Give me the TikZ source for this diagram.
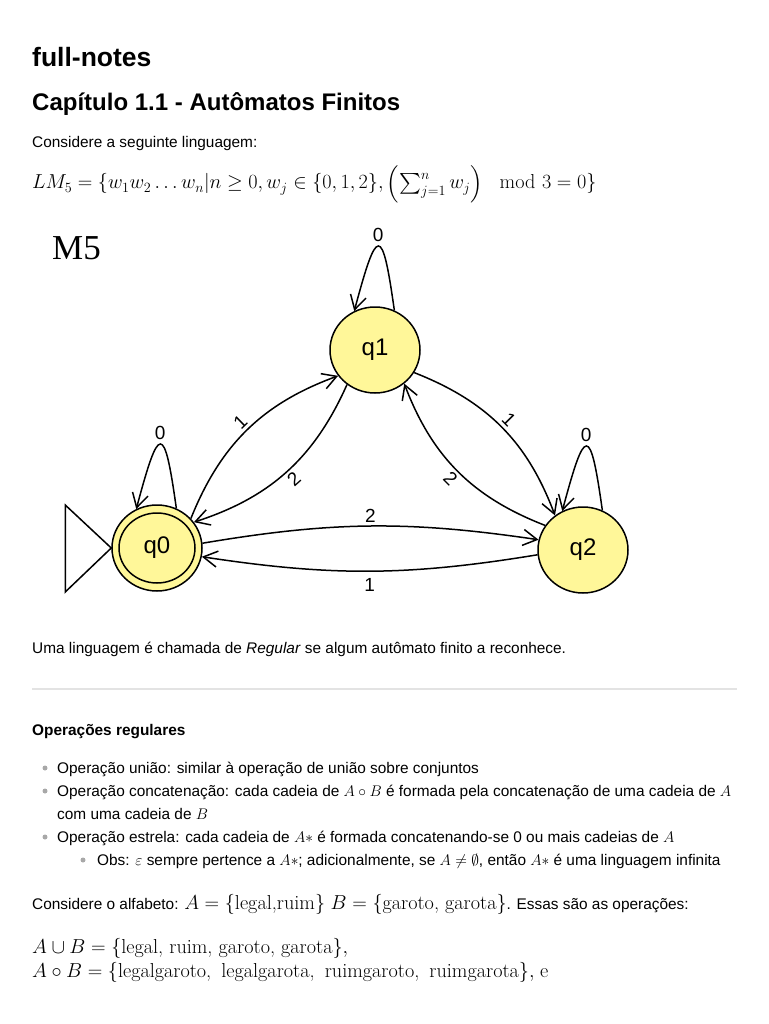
\RequirePackage{fix-cm}
\documentclass[tikz,border=0pt]{standalone}
\usepackage{amsmath}
\usepackage[no-math]{fontspec}
\setmainfont{Liberation Sans}
\newfontfamily\lmr{Latin Modern Roman}
\newfontfamily\mfont{Liberation Serif}
\usetikzlibrary{arrows.meta, shapes.geometric, positioning}
\definecolor{stateyellow}{HTML}{FFF799}
\definecolor{rulegray}{HTML}{E3E3E3}
\definecolor{dotgray}{HTML}{A8A8A8}

\tikzset{
  dfastate/.style={ellipse, draw, line width=1.5pt, fill=stateyellow, minimum width=90pt, minimum height=86pt, inner sep=0pt, font=\fontsize{24}{24}\selectfont},
  trans/.style={line width=1.5pt, -{Straight Barb[length=14pt,width=16pt]}},
  selfloop/.style={out=98, in=75, looseness=5.6},
  lbl/.style={font=\fontsize{19}{19}\selectfont, inner sep=3pt},
  body/.style={anchor=base west, inner sep=0pt, font=\fontsize{15.4}{18}\selectfont},
  mathbig/.style={font=\fontsize{20.2}{22}\selectfont},
  bulletdot/.style={circle, fill=dotgray, inner sep=0pt, minimum size=5pt},
}

\begin{document}
\begin{tikzpicture}[x=1pt, y=-1pt]
    \useasboundingbox (0,0) rectangle (768,1024);

    % Headings
    \node[body, font=\fontsize{26.5}{30}\selectfont\bfseries] (title) at (32,67) {full-notes};
    \node[body, font=\fontsize{24}{28}\selectfont\bfseries] (chapter) at (32,111) {Capítulo 1.1 - Autômatos Finitos};
    \node[body] (intro) at (32,148) {Considere a seguinte linguagem:};
    \node[body, font=\fontsize{20.2}{24}\selectfont] (lang) at (32,189) {$LM_5 = \{w_1w_2\ldots w_n | n \geq 0, w_j \in \{0,1,2\}, \left(\sum_{j=1}^{n} w_j\right) \mod{3} = 0\}$};

    % Automaton M5
    \node[body, font=\fontsize{35}{35}\selectfont\mfont] (mname) at (52,259) {M5};
    \node[dfastate] (q1) at (375,350) {q1};
    \node[dfastate] (q0) at (157,548) {q0};
    \node[dfastate] (q2) at (583,550) {q2};
    \draw[line width=1.5pt] (q0.center) ellipse [x radius=38pt, y radius=35pt];
    \draw[line width=1.5pt] (q0.west) -- ++(-46pt,43pt) -- ++(0pt,-87pt) -- cycle;

    \draw[trans] (q0.64) to[selfloop] node[lbl, above, inner sep=4pt] (l00) {0} (q0.118);
    \draw[trans] (q1.64) to[selfloop] node[lbl, above, inner sep=4pt] (l11) {0} (q1.118);
    \draw[trans] (q2.64) to[selfloop] node[lbl, above, inner sep=4pt] (l22) {0} (q2.118);
    \draw[trans] (q0.41) to[bend left=24] node[lbl, sloped, above] (l01) {1} (q1.215);
    \draw[trans] (q1.231) to[bend left=24] node[lbl, sloped, below] (l10) {2} (q0.35);
    \draw[trans] (q1.330) to[bend left=24] node[lbl, sloped, above] (l12) {1} (q2.129);
    \draw[trans] (q2.147) to[bend left=24] node[lbl, sloped, below] (l21) {2} (q1.311);
    \draw[trans] (q0.6) to[bend left=9] node[lbl, above] (l02) {2} (q2.167);
    \draw[trans] (q2.186) to[bend left=9] node[lbl, below, inner sep=7pt] (l20) {1} (q0.349);

    \node[body] (regular) at (32,653) {Uma linguagem é chamada de \textit{Regular} se algum autômato finito a reconhece.};
    \draw[rulegray, line width=2pt] (32,689) -- (737,689);

    % Operacoes regulares
    \node[body, font=\fontsize{15.4}{18}\selectfont\bfseries] (ops) at (32,735) {Operações regulares};
    \node[bulletdot] (d1) at (45,768) {};
    \node[body] (b1) at (57,773) {Operação união: similar à operação de união sobre conjuntos};
    \node[bulletdot] (d2) at (45,791) {};
    \node[body] (b2) at (57,796) {Operação concatenação: cada cadeia de $A \circ B$ é formada pela concatenação de uma cadeia de $A$};
    \node[body] (b2b) at (57,819) {com uma cadeia de $B$};
    \node[bulletdot] (d3) at (45,837) {};
    \node[body] (b3) at (57,842) {Operação estrela: cada cadeia de $A*$ é formada concatenando-se 0 ou mais cadeias de $A$};
    \node[bulletdot] (d4) at (83,860) {};
    \node[body] (b4) at (97,865) {Obs: $\varepsilon$ sempre pertence a $A*$; adicionalmente, se $A \neq \emptyset$, então $A*$ é uma linguagem infinita};

    \node[body] (alfa) at (32,909) {Considere o alfabeto: {\fontsize{20.2}{22}\selectfont$A = \{\text{\lmr legal,ruim}\}$ $B = \{\text{\lmr garoto, garota}\}$}. Essas são as operações:};
    \node[body, mathbig] (uniao) at (32,953) {$A \cup B = \{\text{\lmr legal, ruim, garoto, garota}\},$};
    \node[body, mathbig] (conc) at (32,977) {$A \circ B = \{\text{\lmr\spaceskip=0.5em legalgaroto, legalgarota, ruimgaroto, ruimgarota}\},$ {\lmr e}};
\end{tikzpicture}
\end{document}
